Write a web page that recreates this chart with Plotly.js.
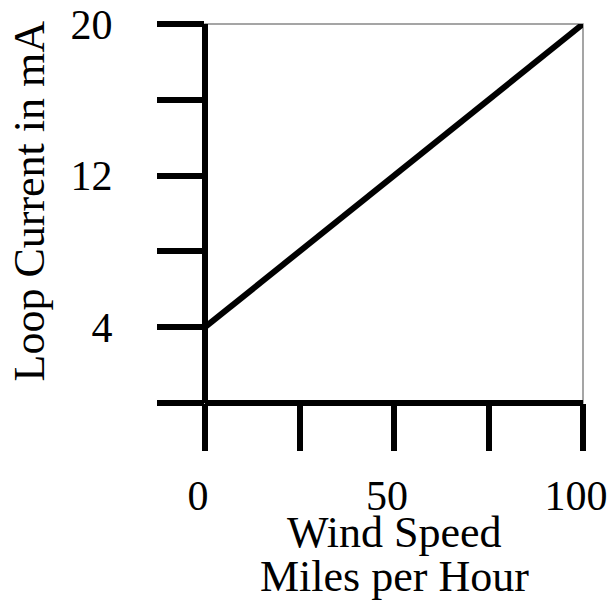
<!DOCTYPE html>
<html>
<head>
<meta charset="utf-8">
<script src="https://cdn.plot.ly/plotly-3.0.1.min.js"></script>
<style>html,body{margin:0;padding:0;background:#fff;}</style>
</head>
<body>
<div id="chart" style="width:608px;height:608px;"></div>
<script>
const windSpeed = [0, 100];
const loopCurrent = [4, 20];
const xTickVals = [0, 25, 50, 75, 100];
const xTickText = ['0', '', '50', '', '100'];
const yTickVals = [0, 4, 8, 12, 16, 20];
const yTickText = ['', '4', '', '12', '', '20'];
const xTitleLines = ['Wind Speed', 'Miles per Hour'];
const yTitle = 'Loop Current in mA';

const fam = 'Liberation Serif, Times New Roman, serif';
const tickFont = {family: fam, size: 42, color: '#000'};
const xTitleFont = {family: fam, size: 44, color: '#000'};
const yTitleFont = {family: fam, size: 44, color: '#000'};

const trace = {
  x: windSpeed, y: loopCurrent, type: 'scatter', mode: 'lines',
  line: {color: '#000', width: 6}, hoverinfo: 'skip', cliponaxis: false
};

const layout = {
  width: 608, height: 608,
  margin: {l: 205, r: 25, t: 24, b: 205, pad: 0},
  paper_bgcolor: '#fff', plot_bgcolor: '#fff',
  font: tickFont,
  showlegend: false,
  xaxis: {
    range: [0, 100], showgrid: false, zeroline: false, showline: false,
    tickmode: 'array', tickvals: xTickVals, ticktext: xTickText,
    ticks: 'outside', ticklen: 47, tickwidth: 6, tickcolor: '#000',
    ticklabelstandoff: 9, ticklabelshift: -7, tickangle: 0, ticklabeloverflow: 'allow',
    tickfont: tickFont, fixedrange: true
  },
  yaxis: {
    range: [0, 20], showgrid: false, zeroline: false, showline: false,
    tickmode: 'array', tickvals: yTickVals, ticktext: yTickText,
    ticks: 'outside', ticklen: 47, tickwidth: 6, tickcolor: '#000',
    ticklabelstandoff: 36, ticklabeloverflow: 'allow',
    tickfont: tickFont, fixedrange: true
  },
  annotations: [
    {text: xTitleLines[0], xref: 'paper', yref: 'paper', x: 0.5, y: -0.343,
     xanchor: 'center', yanchor: 'middle', showarrow: false, font: xTitleFont},
    {text: xTitleLines[1], xref: 'paper', yref: 'paper', x: 0.5, y: -0.459,
     xanchor: 'center', yanchor: 'middle', showarrow: false, font: xTitleFont},
    {text: yTitle, xref: 'paper', yref: 'paper', x: -0.4656, y: 0.5317,
     xanchor: 'center', yanchor: 'middle', textangle: -90, showarrow: false, font: yTitleFont}
  ],
  shapes: [
    {type: 'rect', xref: 'paper', yref: 'paper', x0: 0, y0: 0, x1: 1, y1: 1,
     line: {color: '#888', width: 1.5}, layer: 'below'},
    {type: 'line', xref: 'paper', yref: 'paper', x0: 0, y0: 0, x1: 0, y1: 1,
     line: {color: '#000', width: 6}},
    {type: 'line', xref: 'paper', yref: 'paper', x0: 0, y0: 0, x1: 1, y1: 0,
     line: {color: '#000', width: 6}}
  ]
};

Plotly.newPlot('chart', [trace], layout, {displayModeBar: false, staticPlot: true});
</script>
</body>
</html>
